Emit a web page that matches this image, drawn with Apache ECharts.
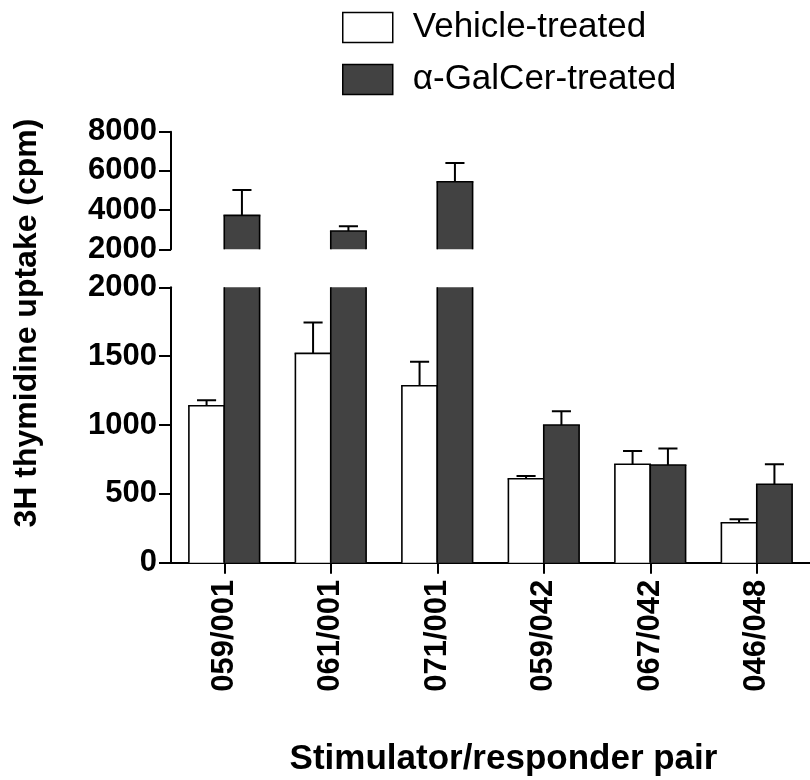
<!DOCTYPE html>
<html>
<head>
<meta charset="utf-8">
<style>
  html, body { margin: 0; padding: 0; background: #fff; }
  #chart { width: 810px; height: 780px; }
</style>
<script src="https://cdn.jsdelivr.net/npm/echarts@6/dist/echarts.min.js"></script>
</head>
<body>
<div id="chart"></div>
<script>
// Stimulator/responder pairs
const categories = ['059/001', '061/001', '071/001', '059/042', '067/042', '046/048'];
// 3H thymidine uptake (cpm), mean and SEM
const vehicleMean = [1140, 1520, 1285, 610, 715, 290];
const vehicleSem = [40, 225, 175, 20, 97, 25];
const galcerMean = [3730, 2930, 5450, 1000, 710, 570];
const galcerSem = [1290, 240, 950, 100, 120, 145];

// Broken value axis: lower segment and upper segment
const lowerTicks = [0, 500, 1000, 1500, 2000];
const upperTicks = [2000, 4000, 6000, 8000];

const FONT = "'Liberation Sans', Arial, Helvetica, sans-serif";
const DARK = '#424242';
const BAR_FRACTION = 0.664;   // share of each category band filled by the bar pair
const EDGE = 1.6;

const chart = echarts.init(document.getElementById('chart'));

function barData(means, side) {
  return means.map((m, i) => [i, m, side]);
}

function errorData(means, sems, side, lo, hi) {
  const out = [];
  means.forEach((m, i) => {
    if (m >= lo && m < hi) out.push([i, m, sems[i], side]);
  });
  return out;
}

// Bars clipped to their own axis segment; the cut edge is left open
function makeBarRenderer(fill) {
  return function (params, api) {
    const ci = api.value(0), v = api.value(1), side = api.value(2);
    const band = api.size([1, 0])[0];
    const barW = band * BAR_FRACTION / 2;
    const p = api.coord([ci, v]);
    const yBase = api.coord([ci, 0])[1];
    const cs = params.coordSys;
    const top = Math.max(p[1], cs.y);
    const bot = Math.min(yBase, cs.y + cs.height);
    if (top >= bot) return null;
    const xc = p[0] + side * barW / 2;
    const x0 = xc - barW / 2, x1 = xc + barW / 2;
    const edge = { stroke: '#000', lineWidth: EDGE };
    const children = [
      { type: 'rect', shape: { x: x0, y: top, width: barW, height: bot - top }, style: { fill: fill } },
      { type: 'line', shape: { x1: x0, y1: bot, x2: x0, y2: top }, style: edge },
      { type: 'line', shape: { x1: x1, y1: bot, x2: x1, y2: top }, style: edge }
    ];
    if (p[1] >= cs.y) {
      children.push({ type: 'line', shape: { x1: x0 - EDGE / 2, y1: top, x2: x1 + EDGE / 2, y2: top }, style: edge });
    }
    return { type: 'group', children };
  };
}

function renderError(params, api) {
  const ci = api.value(0), mean = api.value(1), err = api.value(2), side = api.value(3);
  const band = api.size([1, 0])[0];
  const barW = band * BAR_FRACTION / 2;
  const base = api.coord([ci, mean]);
  const top = api.coord([ci, mean + err]);
  const x = base[0] + side * barW / 2;
  const capHalf = barW * 0.27;
  const style = { stroke: '#000', lineWidth: 2 };
  return {
    type: 'group',
    children: [
      { type: 'line', shape: { x1: x, y1: base[1], x2: x, y2: top[1] }, style },
      { type: 'line', shape: { x1: x - capHalf, y1: top[1], x2: x + capHalf, y2: top[1] }, style }
    ]
  };
}

const axisLine = { show: true, lineStyle: { color: '#000', width: 2 } };
const axisTick = { show: true, inside: false, length: 12, lineStyle: { color: '#000', width: 2 } };
const tickLabel = { color: '#000', fontFamily: FONT, fontWeight: 'bold', fontSize: 31, margin: 14, formatter: v => String(v) };

const gridLeft = 171, gridWidth = 648;

const vehicleStyle = { color: '#fff', borderColor: '#000', borderWidth: 1.5 };
const galcerStyle = { color: DARK, borderColor: '#000', borderWidth: 1.5 };

function barSeries(name, grid, means, side, fill, style) {
  return {
    type: 'custom', name, xAxisIndex: grid, yAxisIndex: grid, silent: true, z: 2,
    itemStyle: style,
    renderItem: makeBarRenderer(fill),
    data: barData(means, side)
  };
}

chart.setOption({
  animation: false,
  backgroundColor: '#fff',
  legend: {
    orient: 'vertical',
    left: 342,
    top: 10,
    padding: 0,
    itemWidth: 50,
    itemHeight: 30,
    itemGap: 17,
    icon: 'rect',
    selectedMode: false,
    data: [
      { name: 'Vehicle-treated', itemStyle: vehicleStyle },
      { name: 'α-GalCer-treated', itemStyle: galcerStyle }
    ],
    textStyle: { color: '#000', fontFamily: FONT, fontSize: 35, padding: [0, 0, 0, 15] }
  },
  grid: [
    { left: gridLeft, width: gridWidth, top: 131.7, height: 117.6 },
    { left: gridLeft, width: gridWidth, top: 287.3, height: 275.4 }
  ],
  xAxis: [
    {
      type: 'category', gridIndex: 0, data: categories,
      axisLine: { show: false }, axisTick: { show: false }, axisLabel: { show: false }
    },
    {
      type: 'category', gridIndex: 1, data: categories,
      axisLine: axisLine,
      axisTick: Object.assign({ alignWithLabel: true }, axisTick, { length: 11 }),
      axisLabel: Object.assign({}, tickLabel, { rotate: 90, margin: 17, formatter: null }),
      name: 'Stimulator/responder pair',
      nameLocation: 'middle',
      nameGap: 179,
      nameTextStyle: { color: '#000', fontFamily: FONT, fontWeight: 'bold', fontSize: 35, padding: [0, 0, 0, 26] }
    }
  ],
  yAxis: [
    {
      type: 'value', gridIndex: 0,
      min: upperTicks[0], max: upperTicks[upperTicks.length - 1], interval: 2000,
      axisLine, axisTick, axisLabel: tickLabel, splitLine: { show: false }
    },
    {
      type: 'value', gridIndex: 1,
      min: lowerTicks[0], max: lowerTicks[lowerTicks.length - 1], interval: 500,
      axisLine, axisTick, axisLabel: tickLabel, splitLine: { show: false }
    }
  ],
  graphic: [
    {
      type: 'text',
      x: 27, y: 323,
      rotation: Math.PI / 2,
      style: {
        text: '3H thymidine uptake (cpm)',
        fill: '#000',
        font: "bold 32px " + FONT,
        align: 'center',
        verticalAlign: 'middle'
      }
    }
  ],
  series: [
    barSeries('Vehicle-treated', 0, vehicleMean, -1, '#fff', vehicleStyle),
    barSeries('α-GalCer-treated', 0, galcerMean, 1, DARK, galcerStyle),
    barSeries('Vehicle-treated', 1, vehicleMean, -1, '#fff', vehicleStyle),
    barSeries('α-GalCer-treated', 1, galcerMean, 1, DARK, galcerStyle),
    {
      type: 'custom', xAxisIndex: 0, yAxisIndex: 0, clip: true, silent: true, z: 1,
      renderItem: renderError,
      data: errorData(vehicleMean, vehicleSem, -1, 2000, Infinity).concat(errorData(galcerMean, galcerSem, 1, 2000, Infinity))
    },
    {
      type: 'custom', xAxisIndex: 1, yAxisIndex: 1, clip: true, silent: true, z: 1,
      renderItem: renderError,
      data: errorData(vehicleMean, vehicleSem, -1, 0, 2000).concat(errorData(galcerMean, galcerSem, 1, 0, 2000))
    }
  ]
});
</script>
</body>
</html>
